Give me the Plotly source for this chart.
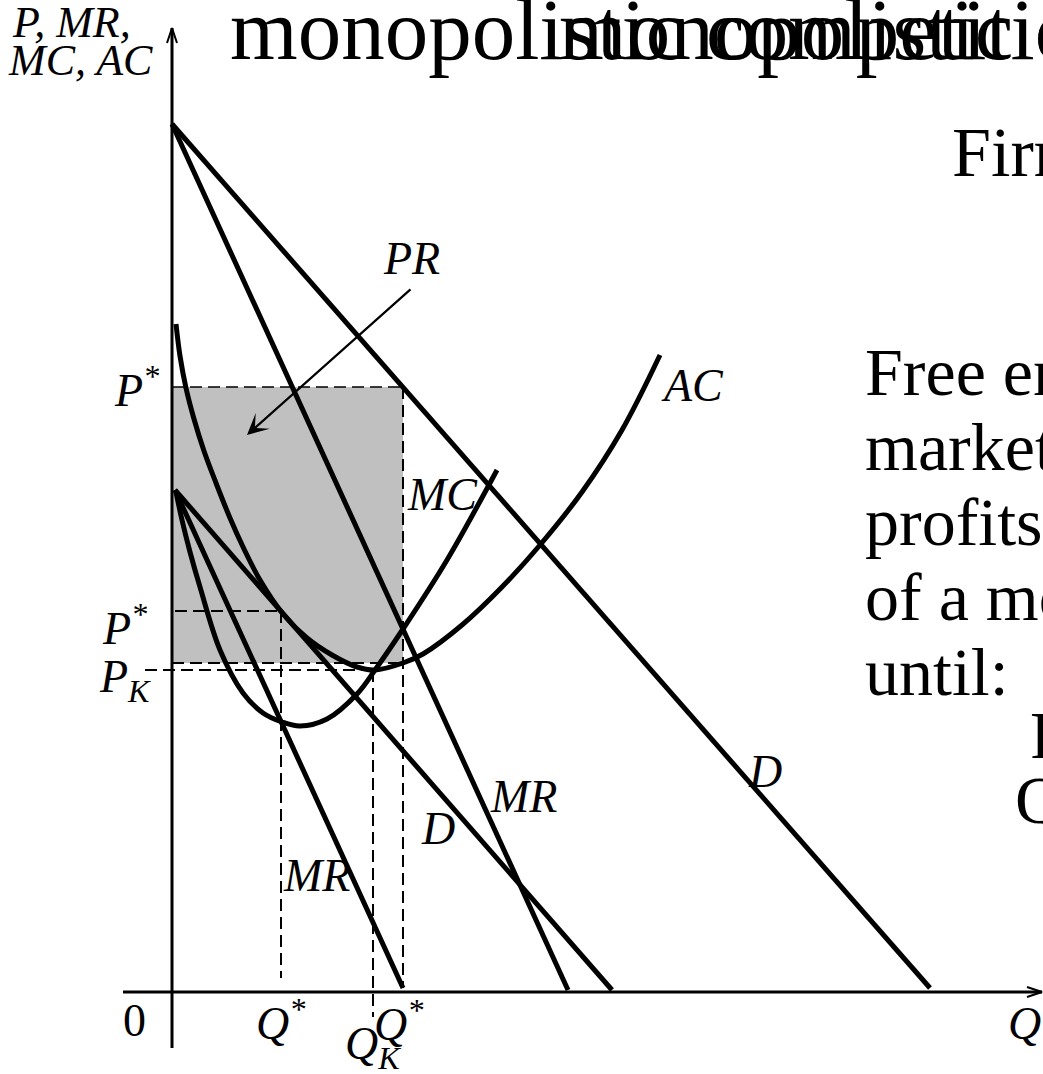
import plotly.graph_objects as go

# ---------------- data: quantity Q (horizontal) and price P (vertical) ----------------
# demand while the firm earns profits, and its marginal revenue
d_high_q = [0, 758]
d_high_p = [868, 4]
mr_high_q = [0, 396]
mr_high_p = [868, 2]

# demand after entry has pulled it inward, and its marginal revenue
d_low_q = [3, 440]
d_low_p = [502, 2]
mr_low_q = [3, 231]
mr_low_p = [502, 4]

# marginal cost
mc_q = [4, 10, 18, 28, 48, 71, 91, 110, 128, 155, 185, 203, 231, 275, 325]
mc_p = [500, 472, 440, 405, 342, 299, 279, 270, 266, 273, 298, 322, 363, 432, 522]

# average cost
ac_q = [4, 8, 14, 22, 32, 44, 58, 72, 88, 111, 135, 160, 185, 203, 231, 251, 290, 330, 368, 410, 450, 488]
ac_p = [668, 636, 604, 573, 541, 509, 474, 443, 412, 378, 354, 337, 325, 322, 329, 338, 367, 405, 447, 500, 562, 637]

# equilibrium points
q_star_short, p_star_short, ac_short = 231, 605, 329   # profit-making output, price, average cost
q_star_long, p_star_long = 109, 381                     # output and price once AC is tangent to demand
q_k, p_k = 201, 322                                     # output and price at minimum AC

# axis extents
q_axis = [-49, 870]
p_axis = [-56, 964]

# ---------------- styling ----------------
SERIF = "Liberation Serif"
INK = "black"
CURVE_W = 5
DASH = "12px,6px"
LABEL = 46

fig = go.Figure()


def line(xs, ys, width=CURVE_W, dash=None, spline=False):
    fig.add_trace(go.Scatter(
        x=xs, y=ys, mode="lines", hoverinfo="skip",
        line=dict(color=INK, width=width, dash=dash,
                  shape="spline" if spline else "linear", smoothing=1.0),
    ))


# profit rectangle
fig.add_shape(type="rect", x0=0, x1=q_star_short, y0=ac_short, y1=p_star_short,
              fillcolor="#c0c0c0", line=dict(width=0), layer="below")

# dashed guides
line([0, q_star_short], [p_star_short, p_star_short], width=1.5, dash=DASH)
line([q_star_short, q_star_short], [p_star_short, 4], width=2, dash=DASH)
line([0, q_star_short], [ac_short, ac_short], width=2, dash=DASH)
line([3, q_star_long], [p_star_long, p_star_long], width=2, dash=DASH)
line([q_star_long, q_star_long], [p_star_long, 14], width=2, dash=DASH)
line([-27, q_k], [p_k, p_k], width=2, dash=DASH)
line([q_k, q_k], [p_k, -25], width=2, dash=DASH)

# axes with open arrow heads
line(q_axis, [0, 0], width=3)
line([0, 0], p_axis, width=3)
tip = 15
half = 5
line([q_axis[1] - tip, q_axis[1], q_axis[1] - tip], [half, 0, -half], width=2)
line([-half, 0, half], [p_axis[1] - tip, p_axis[1], p_axis[1] - tip], width=2)

# curves
line(d_high_q, d_high_p)
line(mr_high_q, mr_high_p)
line(d_low_q, d_low_p)
line(mr_low_q, mr_low_p)
line(mc_q, mc_p, spline=True)
line(ac_q, ac_p, spline=True)

# profit arrow
fig.add_annotation(x=75, y=557, ax=240, ay=704, xref="x", yref="y", axref="x", ayref="y",
                   showarrow=True, arrowhead=3, arrowsize=1.6, arrowwidth=2.2,
                   arrowcolor=INK, text="", standoff=0)


def label(x, y, text, size=LABEL, italic=True, xanchor="center", yanchor="middle"):
    fig.add_annotation(x=x, y=y, xref="x", yref="y", text=text, showarrow=False,
                       xanchor=xanchor, yanchor=yanchor,
                       font=dict(family=SERIF, size=size, color=INK,
                                 style="italic" if italic else "normal"))


# curve labels
label(520, 607, "AC")
label(270, 498, "MC")
label(239, 734, "PR")
label(266, 164, "D")
label(351, 196, "MR")
label(593, 221, "D")
label(144, 117, "MR")

# axis labels
label(-10, p_star_short, "P<sup>*</sup>", xanchor="right")
label(-22, p_star_long - 14, "P<sup>*</sup>", xanchor="right")
label(-19, p_k - 10, "P<sub>K</sub>", xanchor="right")
label(-38, -28, "0", italic=False)
label(q_star_long, -28, "Q<sup>*</sup>")
label(q_star_short - 4, -29, "Q<sup>*</sup>")
label(q_k, -55, "Q<sub>K</sub>")
label(852, -31, "Q")
label(-162, 970, "P, MR,", size=44, xanchor="left")
label(-166, 932, "MC, AC", size=44, xanchor="left")

# slide title (two overlapping copies) and side text
label(56, 963, "monopolistic competition", size=87, italic=False, xanchor="left")
label(385, 963, "monopolistic competition", size=87, italic=False, xanchor="left")
label(778, 840, "Firms", size=70, italic=False, xanchor="left")
for i, txt in enumerate(["Free entry", "market", "profits", "of a monopolistic", "until:"]):
    label(691, 620 - 75 * i, txt, size=68, italic=False, xanchor="left")
label(856, 257, "P = AC", size=68, italic=False, xanchor="left")
label(841, 192, "Q", size=68, italic=False, xanchor="left")

fig.update_layout(
    width=1043, height=1074,
    margin=dict(l=0, r=0, t=0, b=0),
    paper_bgcolor="white", plot_bgcolor="white",
    showlegend=False,
    xaxis=dict(range=[-172, 871], visible=False, fixedrange=True),
    yaxis=dict(range=[-82, 992], visible=False, fixedrange=True),
)

fig.write_html("out.html", config={"displayModeBar": False})
